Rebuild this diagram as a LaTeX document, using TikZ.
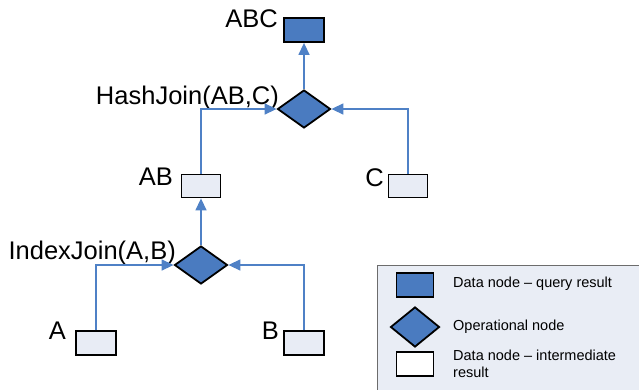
\documentclass[tikz,border=0pt]{standalone}
\usepackage{fontspec}
\setmainfont{Liberation Sans}
\usetikzlibrary{shapes.geometric,arrows.meta}
\definecolor{qblue}{HTML}{4A7BC0}
\definecolor{lineblue}{HTML}{4F81C6}
\definecolor{paleblue}{HTML}{E8ECF5}
\definecolor{legfill}{HTML}{E9EDF5}
\tikzset{
  qbox/.style={draw=black, line width=1.8pt, fill=qblue, minimum width=40pt, minimum height=24pt, inner sep=0pt},
  ibox/.style={draw=black, line width=1.8pt, fill=paleblue, minimum width=39pt, minimum height=23pt, inner sep=0pt},
  opdia/.style={draw=black, line width=1.8pt, fill=qblue, diamond, minimum width=53pt, minimum height=38pt, inner sep=0pt},
  arr/.style={draw=lineblue, line width=1.4pt, -{Triangle[length=12pt,width=11pt]}},
  lbl/.style={font=\fontsize{25.5}{27}\selectfont, inner sep=0pt},
  legtxt/.style={font=\fontsize{14.5}{16.5}\selectfont, inner sep=0pt, anchor=west, align=left}
}
\begin{document}
\begin{tikzpicture}[x=1pt,y=-1pt]
\useasboundingbox (0,0) rectangle (639,389);
% main graph
\node[qbox] (abc) at (304,30) {};
\node[opdia] (hj) at (304,109) {};
\node[ibox] (ab) at (201,186) {};
\node[ibox] (c) at (408,186) {};
\node[opdia] (ij) at (201,265) {};
\node[ibox, minimum width=40pt, minimum height=24pt] (a) at (96,343) {};
\node[ibox, minimum width=40pt, minimum height=24pt] (b) at (304,343) {};
% labels
\node[lbl, anchor=east] (labc) at (278,19) {ABC};
\node[lbl, anchor=east] (lhj) at (279,98) {HashJoin(AB,C)};
\node[lbl, anchor=east] (lab) at (173,177) {AB};
\node[lbl, anchor=east] (lc) at (384,178) {C};
\node[lbl, anchor=east] (lij) at (176,253) {IndexJoin(A,B)};
\node[lbl, anchor=east] (la) at (66,331) {A};
\node[lbl, anchor=east] (lb) at (279,331) {B};
% connectors
\draw[arr] (hj.north) -- (abc.south);
\draw[arr] (ab.north) |- (hj.west);
\draw[arr] (c.north) |- (hj.east);
\draw[arr] (ij.north) -- (ab.south);
\draw[arr] (a.north) |- (ij.west);
\draw[arr] (b.north) |- (ij.east);
% legend (right and bottom edges run off the picture)
\begin{scope}
\clip (0,0) rectangle (639,389);
\node[draw=gray!85!black, line width=1pt, fill=legfill, minimum width=272pt, minimum height=135pt, anchor=north west, inner sep=0pt] (legend) at (377,265) {};
\end{scope}
\node[qbox, minimum width=37pt, minimum height=24pt] (lq) at (415,285) {};
\node[opdia, minimum width=49pt, minimum height=40pt] (lo) at (415,327) {};
\node[draw=black, line width=1.8pt, fill=white, minimum width=37pt, minimum height=24pt, inner sep=0pt] (li) at (415,364) {};
\node[legtxt] (tq) at (453,284) {Data node – query result};
\node[legtxt] (to) at (453,327) {Operational node};
\node[legtxt] (ti) at (453,364) {Data node – intermediate\\result};
\end{tikzpicture}
\end{document}
